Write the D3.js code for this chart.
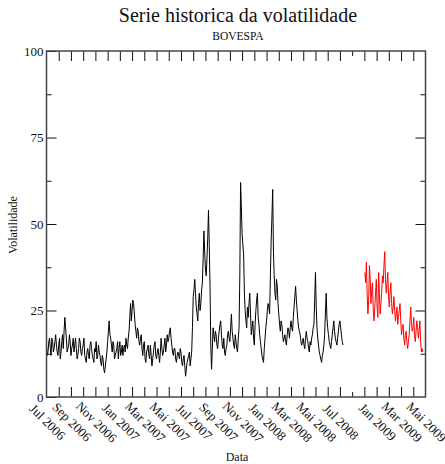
<!DOCTYPE html>
<html>
<head>
<meta charset="utf-8">
<script src="https://cdn.jsdelivr.net/npm/d3@7"></script>
<style>
  body { margin: 0; background: #fff; }
  text { font-family: "Liberation Serif", "DejaVu Serif", serif; fill: #111; }
</style>
</head>
<body>
<svg id="chart" width="445" height="464"></svg>
<script>
// ---- data ----
// x positions are expressed in "month slots" of the compressed axis (0 = Jul 2006, 31 = Mai 2009)
const xLabelPos   = [0, 2, 4, 6, 8, 10, 12, 14, 16, 18, 20, 22, 24, 27, 29, 31];
const xLabelText  = ["Jul 2006","Sep 2006","Nov 2006","Jan 2007","Mar 2007","Mai 2007","Jul 2007",
                     "Sep 2007","Nov 2007","Jan 2008","Mar 2008","Mai 2008","Jul 2008",
                     "Jan 2009","Mar 2009","Mai 2009"];
const xTickPos    = [1,2,3,4,5,6,7,8,9,10,11,12,13,14,15,16,17,18,19,20,21,22,23,24,26,27,28,29,30];
const xShortTick  = [25];
const yMajor      = [0, 25, 50, 75, 100];
const yMinor      = [12.5, 37.5, 62.5, 87.5];

const sampleStep  = 0.0625;  // spacing between samples in month slots
const blackStart  = 0;       // first sample slot of historical series
const redStart    = 26.04;   // first sample slot of recent series

const blackValues = [
  15,12,13,16,17,14,12,17,16,13,14,16,18,15,13,12,15,17,11,13,16,18,14,19,23,20,17,13,14,15,18,16,12,14,15,17,13,15,17,14,11,12,14,17,16,13,12,14,
  15,17,12,11,10,13,14,12,11,15,16,14,12,11,10,14,13,16,11,12,15,13,12,10,9,12,11,8,7,9,11,13,16,19,22,18,
  17,15,13,16,15,11,12,13,14,16,11,14,16,12,13,15,12,14,15,13,17,15,14,17,19,23,27,22,25,28,27,24,
  21,19,17,20,19,16,15,17,18,14,12,15,16,11,10,13,14,15,12,11,15,12,9,11,13,15,16,12,11,13,14,12,10,13,17,14,12,13,15,17,13,15,18,16,17,19,
  20,17,15,13,12,14,14,11,10,12,13,12,11,14,13,10,9,11,12,9,6,8,10,11,12,13,9,11,13,20,
  29,31,34,30,26,24,22,27,30,25,27,31,33,40,48,42,37,35,40,46,54,44,32,15,8,14,
  20,18,16,19,18,15,14,17,19,21,22,18,15,14,17,13,12,14,15,18,19,17,16,20,24,19,17,15,14,18,16,14,13,17,20,35,
  62,55,47,44,41,30,25,22,20,26,23,27,30,24,18,20,22,17,15,21,25,28,30,23,21,18,16,14,12,11,10,14,17,20,22,25,27,26,24,35,
  45,52,60,42,35,30,28,34,32,27,24,21,19,22,21,18,16,17,18,16,15,18,20,19,17,20,22,20,19,23,26,29,
  32,28,25,22,20,19,18,16,15,16,17,15,14,17,19,17,16,14,13,16,15,17,18,20,21,28,
  36,26,20,17,15,13,12,11,10,12,13,15,18,24,
  30,23,20,18,16,15,14,16,18,20,22,19,17,16,15,17,19,21,22,20,18,16,15
];

const redValues = [
  36,33,39,30,24,28,38,34,27,31,33,25,22,26,30,34,26,23,36,30,24,27,30,35,33,38,42,34,30,33,36,29,
  26,30,33,27,24,26,29,25,22,24,26,21,23,25,27,22,18,20,21,17,15,18,19,16,14,16,18,22,26,21,19,20,
  23,18,16,19,22,20,17,19,22,16,13,14,13
];

// ---- layout ----
const svg = d3.select("#chart");
const mLeft = 46.5, mRight = 425.5, mTop = 51, mBottom = 397;

const x = d3.scaleLinear().domain([0, 31]).range([mLeft, mRight]);
const y = d3.scaleLinear().domain([0, 100]).range([mBottom, mTop]);

// titles
svg.append("text").attr("x", 238).attr("y", 22).attr("text-anchor", "middle")
  .style("font-size", "20px").text("Serie historica da volatilidade");
svg.append("text").attr("x", 238).attr("y", 40).attr("text-anchor", "middle")
  .style("font-size", "11.5px").text("BOVESPA");

// series
const line = d3.line().x(d => x(d[0])).y(d => y(d[1]));
const blackPts = blackValues.map((v, i) => [blackStart + i * sampleStep, v]);
const redPts = redValues.map((v, i) => [redStart + i * sampleStep, v]);

svg.append("path").datum(blackPts).attr("d", line)
  .attr("fill", "none").attr("stroke", "#000").attr("stroke-width", 1);
svg.append("path").datum(redPts).attr("d", line)
  .attr("fill", "none").attr("stroke", "#f00").attr("stroke-width", 1);

// axes (inward ticks)
function styleAxis(g) {
  g.select(".domain").remove();
  g.selectAll(".tick line").attr("stroke", "#111").attr("stroke-width", 1);
  g.selectAll("text").style("font-size", "13px").style("font-family", "Liberation Serif, serif").attr("fill", "#111");
}
svg.append("g").attr("transform", `translate(${mLeft},0)`)
  .call(d3.axisLeft(y).tickValues(yMajor).tickSize(-10).tickPadding(3).tickFormat(d3.format("d")))
  .call(styleAxis);
svg.append("g").attr("transform", `translate(${mLeft},0)`)
  .call(d3.axisLeft(y).tickValues(yMinor).tickSize(-5).tickFormat(""))
  .call(styleAxis);
svg.append("g").attr("transform", `translate(${mRight},0)`)
  .call(d3.axisRight(y).tickValues(yMajor.filter(v => v > 0 && v < 100)).tickSize(-10).tickFormat(""))
  .call(styleAxis);
svg.append("g").attr("transform", `translate(${mRight},0)`)
  .call(d3.axisRight(y).tickValues(yMinor).tickSize(-5).tickFormat(""))
  .call(styleAxis);

svg.append("g").attr("transform", `translate(0,${mBottom})`)
  .call(d3.axisBottom(x).tickValues(xTickPos).tickSize(-10).tickFormat(""))
  .call(styleAxis);
svg.append("g").attr("transform", `translate(0,${mBottom})`)
  .call(d3.axisBottom(x).tickValues(xShortTick).tickSize(-5).tickFormat(""))
  .call(styleAxis);
svg.append("g").attr("transform", `translate(0,${mTop})`)
  .call(d3.axisTop(x).tickValues(xTickPos).tickSize(-10).tickFormat(""))
  .call(styleAxis);
svg.append("g").attr("transform", `translate(0,${mTop})`)
  .call(d3.axisTop(x).tickValues(xShortTick).tickSize(-5).tickFormat(""))
  .call(styleAxis);

// frame
svg.append("rect").attr("x", mLeft).attr("y", mTop)
  .attr("width", mRight - mLeft).attr("height", mBottom - mTop)
  .attr("fill", "none").attr("stroke", "#444").attr("stroke-width", 1.5);

// rotated x labels
svg.append("g").selectAll("text").data(xLabelPos).join("text")
  .attr("transform", (d) => `translate(${x(d) + 1},422) rotate(45)`)
  .attr("text-anchor", "middle").attr("dominant-baseline", "central")
  .style("font-size", "13px")
  .text((d, i) => xLabelText[i]);

// axis titles
svg.append("text").attr("x", 237).attr("y", 461).attr("text-anchor", "middle")
  .style("font-size", "12px").text("Data");
svg.append("text").attr("transform", "translate(13,225) rotate(-90)")
  .attr("text-anchor", "middle").attr("dominant-baseline", "central")
  .style("font-size", "12px").text("Volatilidade");
</script>
</body>
</html>
